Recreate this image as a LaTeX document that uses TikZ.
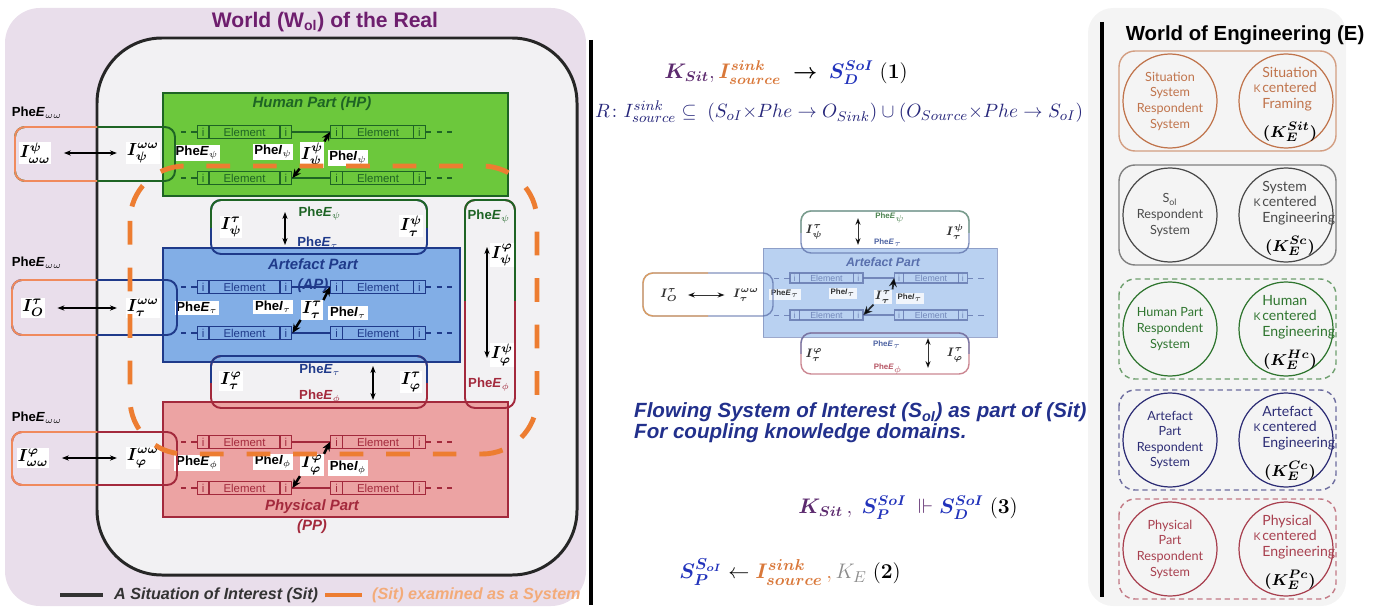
\documentclass[tikz,border=0pt]{standalone}
\usepackage{amsmath}
\usepackage{amssymb}
\usepackage[no-math]{fontspec}
\setmainfont{Liberation Sans}
\newfontfamily\circfont{Lato}
\usetikzlibrary{arrows.meta}

\definecolor{realbg}{HTML}{E9DEEB}
\definecolor{sitfill}{HTML}{F2F1F3}
\definecolor{realtitle}{HTML}{6E1E6E}
\definecolor{hpfill}{HTML}{6CC83C}
\definecolor{hpdark}{HTML}{1E6424}
\definecolor{apfill}{HTML}{82AEE6}
\definecolor{apdark}{HTML}{1F3A8A}
\definecolor{ppfill}{HTML}{ECA3A3}
\definecolor{ppdark}{HTML}{A3293C}
\definecolor{envorange}{HTML}{F08A5D}
\definecolor{sysorange}{HTML}{ED7D31}
\definecolor{ksit}{HTML}{5C2A6E}
\definecolor{isrc}{HTML}{D9783A}
\definecolor{sdblue}{HTML}{2233BB}
\definecolor{rnavy}{HTML}{26267A}
\definecolor{flownavy}{HTML}{22308C}
\definecolor{engbg}{HTML}{F4F4F4}
\definecolor{engone}{HTML}{C0744C}
\definecolor{engtwo}{HTML}{4A4A4A}
\definecolor{engthree}{HTML}{2F752F}
\definecolor{engfour}{HTML}{2D2D75}
\definecolor{engfive}{HTML}{A8404F}

\tikzset{
  ilab/.style={fill=white, inner sep=0.5pt, font=\fontsize{10}{11}\selectfont},
  phe/.style={inner sep=1pt, font=\bfseries\fontsize{7.5}{8}\selectfont},
  phew/.style={phe, fill=white},
  parttitle/.style={font=\bfseries\itshape\fontsize{8.5}{11.5}\selectfont, align=center},
  linkbox/.style={rounded corners=0.2cm, line width=1.1pt},
  biarrow/.style={{Stealth[length=4pt,width=3pt]}-{Stealth[length=4pt,width=3pt]}, line width=0.6pt},
  flowarrow/.style={-{Stealth[length=5pt,width=4.5pt]}, line width=1.4pt},
  sysline/.style={draw=sysorange, line width=2.8pt, dash pattern=on 13.5pt off 13pt, rounded corners=1.1cm},
  elembox/.style={draw=#1, text=#1, line width=0.7pt, inner sep=0pt, minimum height=7.4pt,
    font=\fontsize{6.5}{7}\selectfont,
    path picture={\draw[#1, line width=0.7pt]
      ([xshift=6.8pt]path picture bounding box.north west) -- ([xshift=6.8pt]path picture bounding box.south west)
      ([xshift=-6.8pt]path picture bounding box.north east) -- ([xshift=-6.8pt]path picture bounding box.south east);}},
  engcirc/.style={circle, draw=#1, text=#1, line width=0.7pt, minimum size=53.5pt, inner sep=0pt,
    align=center, font=\circfont\fontsize{7.2}{8.9}\selectfont},
  engtxt/.style={text=#1, align=left, inner sep=0pt, font=\circfont\fontsize{8}{8.8}\selectfont},
  engsolid/.style={solid},
  engdash/.style={dash pattern=on 3pt off 2.2pt}
}

% element box: [options]{name}{x}{y}{colour}
\newcommand{\elem}[5][]{%
  \node[elembox=#5, #1] (#2) at (#3,#4) {\makebox[6.8pt]{i}\makebox[40.3pt]{Element}\makebox[6.8pt]{i}};}
\newcommand{\Ilab}[2]{$\boldsymbol{I^{#1}_{#2}}$}
% frame with left / right colour
\newcommand{\splitboxh}[8][]{%
  \draw[linkbox, #8, #1] (#2,#3) rectangle (#4,#5);
  \begin{scope}
    \clip (#2-5,#3-5) rectangle (#6,#5+5);
    \draw[linkbox, #7, #1] (#2,#3) rectangle (#4,#5);
  \end{scope}}
% frame with top / bottom colour
\newcommand{\splitboxv}[8][]{%
  \draw[linkbox, #8, #1] (#2,#3) rectangle (#4,#5);
  \begin{scope}
    \clip (#2-5,#3-5) rectangle (#4+5,#6);
    \draw[linkbox, #7, #1] (#2,#3) rectangle (#4,#5);
  \end{scope}}

\begin{document}
\begin{tikzpicture}[x=0.02cm, y=-0.02cm]
\useasboundingbox (0,0) rectangle (1382,608);

% backgrounds
\fill[realbg, rounded corners=0.7cm] (5,8) rectangle (586,606);
\fill[engbg, rounded corners=0.5cm] (1088,8) rectangle (1346,606);
\node[font=\bfseries\fontsize{12}{14}\selectfont, text=realtitle] (realtitle) at (325,22) {World (W\textsubscript{ol}) of the Real};
\draw[line width=1.7pt, black!85, fill=sitfill, rounded corners=1.3cm] (97,38) rectangle (577,575);

% the three parts
\draw[hpdark, fill=hpfill, line width=0.6pt] (163,93) rectangle (508,196);
\draw[apdark, fill=apfill, line width=0.6pt] (163,248) rectangle (460,362);
\draw[ppdark, fill=ppfill, line width=0.6pt] (163,402) rectangle (508,517);
\node[parttitle, text=hpdark] (hptitle) at (312,104) {Human Part (HP)};
\node[parttitle, text=apdark] (aptitle) at (313,276) {Artefact Part\\(AP)};
\node[parttitle, text=ppdark] (pptitle) at (312,517) {Physical Part\\(PP)};

\foreach \p/\col/\ya/\g/\gs in {hp/hpdark/132/\psi/\psi, ap/apdark/287/\tau/\tau, pp/ppdark/442/\varphi/\phi}{
  \pgfmathsetmacro\yb{\ya+46}
  \pgfmathsetmacro\ym{\ya+23}
  \elem{\p a}{244.5}{\ya}{\col}
  \elem{\p b}{378}{\ya}{\col}
  \elem{\p c}{244.5}{\yb}{\col}
  \elem{\p d}{378}{\yb}{\col}
  \draw[\col, dashed, line width=0.6pt] (\p a.west) -- ++(-19,0);
  \draw[\col, dashed, line width=0.6pt] (\p c.west) -- ++(-19,0);
  \draw[\col, dashed, line width=0.6pt] (\p b.east) -- ++(27,0);
  \draw[\col, dashed, line width=0.6pt] (\p d.east) -- ++(27,0);
  \draw[\col, line width=0.7pt] (\p a.east) -- (\p b.west);
  \draw[\col, line width=0.7pt] (\p d.west) -- (\p c.east);
  \node[phew] (\p e) at (197,\ym-2) {Phe\textit{E}$_{\gs}$};
  \node[phew] (\p f) at (273,\ym-3) {Phe\textit{I}$_{\gs}$};
  \node[ilab] (\p i) at (312,\ym) {\Ilab{\g}{\g}};
  \node[phew] (\p g) at (348,\ym+3) {Phe\textit{I}$_{\gs}$};
  \draw[flowarrow] (\p i.north east) -- (\p b.west);
  \draw[flowarrow] (\p i.south west) -- (\p c.east);
}

% links between the parts
\splitboxv{211}{200}{427}{254}{227}{hpdark}{apdark}
\node[ilab] (hpapa) at (231,227) {\Ilab{\tau}{\psi}};
\node[ilab] (hpapb) at (411,226) {\Ilab{\psi}{\tau}};
\node[phe, text=hpdark] (hpape) at (320,214) {Phe\textit{E}$_{\psi}$};
\node[phe, text=apdark] (hpapf) at (318,243) {Phe\textit{E}$_{\tau}$};
\coordinate (hpapt) at (285,212);
\coordinate (hpapu) at (285,245);
\draw[biarrow] (hpapt) -- (hpapu);

\splitboxv{211}{356}{427}{408}{382}{apdark}{ppdark}
\node[ilab] (apppa) at (231,381) {\Ilab{\varphi}{\tau}};
\node[ilab] (apppb) at (411,382) {\Ilab{\tau}{\varphi}};
\node[phe, text=apdark] (apppe) at (320,370) {Phe\textit{E}$_{\tau}$};
\node[phe, text=ppdark] (apppf) at (320,397) {Phe\textit{E}$_{\phi}$};
\coordinate (apppt) at (373,366);
\coordinate (apppu) at (373,400);
\draw[biarrow] (apppt) -- (apppu);

\splitboxv{465}{200}{515}{408}{300}{hpdark}{ppdark}
\node[phe, text=hpdark] (hpppe) at (489,217) {Phe\textit{E}$_{\psi}$};
\node[ilab] (hpppa) at (502,255) {\Ilab{\varphi}{\psi}};
\node[ilab] (hpppb) at (502,355) {\Ilab{\psi}{\varphi}};
\node[phe, text=ppdark] (hpppf) at (489,385) {Phe\textit{E}$_{\phi}$};
\coordinate (hpppt) at (487,247);
\coordinate (hpppu) at (487,358);
\draw[biarrow] (hpppt) -- (hpppu);

% links to the outside
\splitboxh{15}{127}{175}{181}{97}{envorange}{hpdark}
\node[phe] (hpwe) at (37,113) {Phe\textit{E}$_{\omega\omega}$};
\node[ilab] (hpwa) at (35,153) {\Ilab{\psi}{\omega\omega}};
\node[ilab] (hpwb) at (143,153) {\Ilab{\omega\omega}{\psi}};
\draw[biarrow, shorten <=7pt, shorten >=5pt] (hpwa) -- (hpwb);

\splitboxh{12}{280}{177}{335}{97}{envorange}{apdark}
\node[phe] (apwe) at (37,263) {Phe\textit{E}$_{\omega\omega}$};
\node[ilab] (apwa) at (33,308) {\Ilab{\tau}{O}};
\node[ilab] (apwb) at (143,308) {\Ilab{\omega\omega}{\tau}};
\draw[biarrow, shorten <=7pt, shorten >=5pt] (apwa) -- (apwb);

\splitboxh{12}{432}{177}{485}{97}{envorange}{ppdark}
\node[phe] (ppwe) at (37,418) {Phe\textit{E}$_{\omega\omega}$};
\node[ilab] (ppwa) at (33,458) {\Ilab{\varphi}{\omega\omega}};
\node[ilab] (ppwb) at (143,458) {\Ilab{\omega\omega}{\varphi}};
\draw[biarrow, shorten <=7pt, shorten >=5pt] (ppwa) -- (ppwb);

% the system boundary
\draw[sysline] (130,166) rectangle (537,454);

% legend
\coordinate (lga) at (60,595);
\coordinate (lgb) at (103,595);
\draw[black!80, line width=2.3pt] (lga) -- (lgb);
\node[anchor=west, font=\bfseries\itshape\fontsize{9.2}{10}\selectfont, text=black!80] (lgsit) at (108,595) {A Situation of Interest (Sit)};
\coordinate (lgc) at (325,595);
\coordinate (lgd) at (362,595);
\draw[sysorange, line width=2.8pt] (lgc) -- (lgd);
\node[anchor=west, font=\bfseries\itshape\fontsize{9.2}{10}\selectfont, text=sysorange!65!white] (lgsys) at (366,595) {(Sit) examined as a System};

% separators
\coordinate (bara) at (591,40);
\coordinate (barb) at (591,605);
\draw[line width=2.6pt] (bara) -- (barb);
\coordinate (barc) at (1102,22);
\coordinate (bard) at (1102,597);
\draw[line width=2.8pt] (barc) -- (bard);

% formulas
\node[font=\fontsize{11.8}{14}\selectfont] (eqone) at (786,73)
  {$\color{ksit}\boldsymbol{K_{Sit}},\color{isrc}\boldsymbol{I^{sink}_{source}}\;\color{black}\boldsymbol{\rightarrow}\;\color{sdblue}\boldsymbol{S^{SoI}_{D}}\;\color{black}\mathbf{(1)}$};
\node[text=rnavy, font=\fontsize{11.3}{14}\selectfont] (eqr) at (839,112)
  {$R\colon I^{sink}_{source} \subseteq\; (S_{oI}{\times}Phe \rightarrow O_{Sink}) \cup (O_{Source}{\times}Phe \rightarrow S_{oI})$};
\node[anchor=west, align=left, text=flownavy, font=\bfseries\itshape\fontsize{11.7}{10.8}\selectfont] (flow) at (628,423)
  {Flowing System of Interest (S\textsubscript{oI}) as part of (Sit)\\For coupling knowledge domains.};
\node[font=\fontsize{11.8}{14}\selectfont] (eqthree) at (908,508)
  {$\color{ksit}\boldsymbol{K_{Sit}}\,,\;\color{sdblue}\boldsymbol{S^{SoI}_{P}}\;\color{ksit}\Vdash\color{sdblue}\boldsymbol{S^{SoI}_{D}}\;\color{black}\mathbf{(3)}$};
\node[font=\fontsize{12.5}{14}\selectfont] (eqtwo) at (790,572)
  {$\color{sdblue}\boldsymbol{S^{S_{oI}}_{P}}\color{black}\leftarrow\color{isrc}\boldsymbol{I^{sink}_{source}}\,,\color{black!45}K_E\;\color{black}\mathbf{(2)}$};

% small copy of the artefact part
\begin{scope}[opacity=0.8]
\draw[apdark!55!white, fill=apfill!70!white, line width=0.5pt] (763,248) rectangle (997,337);
\node[parttitle, text=apdark!85!white, font=\bfseries\itshape\fontsize{7}{8}\selectfont] (mtitle) at (883,262) {Artefact Part};
\elem[scale=0.77]{mpa}{826.5}{278}{apdark!70!white}
\elem[scale=0.77]{mpb}{931}{278}{apdark!70!white}
\elem[scale=0.77]{mpc}{826.5}{315}{apdark!70!white}
\elem[scale=0.77]{mpd}{931}{315}{apdark!70!white}
\draw[apdark!70!white, dashed, line width=0.5pt] (mpa.west) -- ++(-17,0);
\draw[apdark!70!white, dashed, line width=0.5pt] (mpc.west) -- ++(-17,0);
\draw[apdark!70!white, dashed, line width=0.5pt] (mpb.east) -- ++(21,0);
\draw[apdark!70!white, dashed, line width=0.5pt] (mpd.east) -- ++(21,0);
\draw[apdark!70!white, line width=0.6pt] (mpa.east) -- (mpb.west);
\draw[apdark!70!white, line width=0.6pt] (mpd.west) -- (mpc.east);
\node[phew, font=\bfseries\fontsize{4.5}{5}\selectfont] (mpe) at (785,294) {Phe\textit{E}$_{\tau}$};
\node[phew, font=\bfseries\fontsize{4.5}{5}\selectfont] (mpf) at (843,293) {Phe\textit{I}$_{\tau}$};
\node[ilab, font=\fontsize{7.5}{9}\selectfont] (mpi) at (883,297) {\Ilab{\tau}{\tau}};
\node[phew, font=\bfseries\fontsize{4.5}{5}\selectfont] (mpg) at (910,298) {Phe\textit{I}$_{\tau}$};
\draw[flowarrow, line width=1pt] (mpi.north east) -- (mpb.west);
\draw[flowarrow, line width=1pt] (mpi.south west) -- (mpc.east);

\splitboxh[line width=0.8pt]{643}{273}{773}{316}{708}{envorange!80!yellow}{apdark!70!white}
\node[ilab, font=\fontsize{7.5}{9}\selectfont] (mla) at (669,295) {\Ilab{\tau}{O}};
\node[ilab, font=\fontsize{7.5}{9}\selectfont] (mlb) at (746,295) {\Ilab{\omega\omega}{\tau}};
\draw[biarrow, line width=0.5pt, shorten <=5pt, shorten >=4pt] (mla) -- (mlb);

\splitboxv[line width=0.8pt]{801}{211}{969}{253}{232}{hpdark!60!white}{apdark!70!white}
\node[ilab, font=\fontsize{7.5}{9}\selectfont] (mta) at (814,232) {\Ilab{\tau}{\psi}};
\node[ilab, font=\fontsize{7.5}{9}\selectfont] (mtb) at (955,232) {\Ilab{\psi}{\tau}};
\node[phe, text=hpdark, font=\bfseries\fontsize{4.5}{5}\selectfont] (mte) at (890,218) {Phe\textit{E}$_{\psi}$};
\node[phe, text=apdark, font=\bfseries\fontsize{4.5}{5}\selectfont] (mtf) at (888,243) {Phe\textit{E}$_{\tau}$};
\coordinate (mtt) at (858,218);
\coordinate (mtu) at (858,245);
\draw[biarrow, line width=0.5pt] (mtt) -- (mtu);

\splitboxv[line width=0.8pt]{801}{333}{969}{374}{353}{apdark!70!white}{ppdark!70!white}
\node[ilab, font=\fontsize{7.5}{9}\selectfont] (mba) at (814,355) {\Ilab{\varphi}{\tau}};
\node[ilab, font=\fontsize{7.5}{9}\selectfont] (mbb) at (955,355) {\Ilab{\tau}{\varphi}};
\node[phe, text=apdark, font=\bfseries\fontsize{4.5}{5}\selectfont] (mbe) at (887,345) {Phe\textit{E}$_{\tau}$};
\node[phe, text=ppdark, font=\bfseries\fontsize{4.5}{5}\selectfont] (mbf) at (888,369) {Phe\textit{E}$_{\phi}$};
\coordinate (mbt) at (928,338);
\coordinate (mbu) at (928,368);
\draw[biarrow, line width=0.5pt] (mbt) -- (mbu);
\end{scope}

% world of engineering
\node[font=\bfseries\fontsize{11.6}{13}\selectfont] (engtitle) at (1245,35) {World of Engineering (E)};
\foreach \cy/\col/\frst/\ltxt/\rtop/\rlast/\ksup [count=\k] in {
  101/engone/engsolid/{Situation\\System\\Respondent\\System}/Situation/Framing/Sit,
  215/engtwo/engsolid/{S\textsubscript{ol}\\Respondent\\System}/System/Engineering/Sc,
  329/engthree/engdash/{Human Part\\Respondent\\System}/Human/Engineering/Hc,
  440/engfour/engdash/{Artefact\\Part\\Respondent\\System}/Artefact/Engineering/Cc,
  549/engfive/engdash/{Physical\\Part\\Respondent\\System}/Physical/Engineering/Pc}{
  \draw[\frst, draw=\col!70!white, line width=0.8pt, rounded corners=0.32cm] (1119,\cy-50) rectangle (1336,\cy+50);
  \node[engcirc=\col] (ecl\k) at (1170,\cy) {\ltxt};
  \node[engcirc=\col] (ecr\k) at (1286,\cy) {};
  \node[engtxt=\col, anchor=west] (ect\k) at (1262,\cy-12) {\rtop\\centered\\\rlast};
  \node[engtxt=\col, font=\circfont\fontsize{6}{7}\selectfont, anchor=east] (eck\k) at (1261,\cy-12) {K};
  \node[font=\fontsize{9.5}{11}\selectfont, inner sep=0pt] (ecf\k) at (1290,\cy+31) {$\boldsymbol{(K^{\ksup}_{E})}$};
}
\end{tikzpicture}
\end{document}
